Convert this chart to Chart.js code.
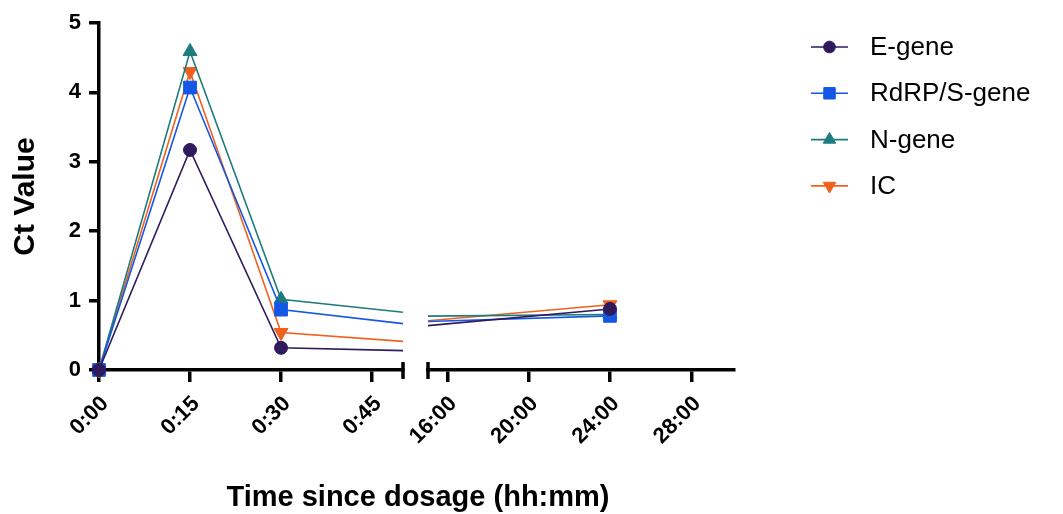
<!DOCTYPE html>
<html>
<head>
<meta charset="utf-8">
<script src="https://cdn.jsdelivr.net/npm/chart.js@4"></script>
<style>
  html, body { margin: 0; padding: 0; background: #fff; }
  #wrap { position: relative; width: 1063px; height: 514px; overflow: hidden; }
  #leftChart { position: absolute; left: 0; top: 0; }
  #rightChart { position: absolute; left: 340px; top: 0; }
  #xTitle {
    position: absolute; left: 418px; top: 482px; transform: translateX(-50%);
    font: bold 29px 'Liberation Sans', Arial, sans-serif; line-height: 29px;
    white-space: nowrap; color: #000;
  }
</style>
</head>
<body>
<div id="wrap">
  <canvas id="leftChart" width="420" height="514"></canvas>
  <canvas id="rightChart" width="723" height="514"></canvas>
  <div id="xTitle">Time since dosage (hh:mm)</div>
</div>
<script>
// time points in hours since dosage
const hours = [0, 0.25, 0.5, 1, 24];
const eGene = [0, 3.17, 0.32, 0.26, 0.88];
const rdrpGene = [0, 4.07, 0.87, 0.57, 0.78];
const nGene = [0, 4.59, 1.02, 0.74, 0.80];
const icValues = [0, 4.30, 0.54, 0.35, 0.94];
const seriesNames = ['E-gene', 'RdRP/S-gene', 'N-gene', 'IC'];

const leftTicks = [0, 0.25, 0.5, 0.75];
const rightTicks = [16, 20, 24, 28];
const yTicks = [0, 1, 2, 3, 4, 5];

const FONT = "'Liberation Sans', Arial, sans-serif";

const seriesStyles = [
    { color: '#2e1a5c', pointStyle: 'circle', radius: 6.5, rotation: 0 },
    { color: '#1457e6', pointStyle: 'rect', radius: 9, rotation: 0 },
    { color: '#1d7b7d', pointStyle: 'triangle', radius: 8, rotation: 0 },
    { color: '#f0601f', pointStyle: 'triangle', radius: 8, rotation: 180 }
];

function formatTime(h) {
    const whole = Math.floor(h);
    const mins = Math.round((h - whole) * 60);
    return whole + ':' + String(mins).padStart(2, '0');
}

function buildDatasets(clip) {
    return [eGene, rdrpGene, nGene, icValues].map((vals, i) => {
        const s = seriesStyles[i];
        return {
            label: seriesNames[i],
            data: hours.map((h, j) => ({ x: h, y: vals[j] })),
            borderColor: s.color,
            backgroundColor: s.color,
            borderWidth: 1.6,
            pointStyle: s.pointStyle,
            pointRadius: s.radius,
            pointRotation: s.rotation,
            pointBorderWidth: 1,
            tension: 0,
            clip: clip
        };
    });
}

// end caps where the x axis is broken
const breakMark = {
    id: 'breakMark',
    afterDraw(chart, args, opts) {
        const ctx = chart.ctx;
        const area = chart.chartArea;
        const x = opts.side === 'right' ? area.right : area.left;
        ctx.save();
        ctx.strokeStyle = '#000';
        ctx.lineWidth = 3.5;
        ctx.beginPath();
        ctx.moveTo(x, area.bottom - 8);
        ctx.lineTo(x, area.bottom + 9);
        ctx.stroke();
        ctx.restore();
    }
};

// legend with a short line through each marker
const lineLegend = {
    id: 'lineLegend',
    afterDraw(chart, args, opts) {
        if (!opts.show) return;
        const ctx = chart.ctx;
        chart.data.datasets.forEach((ds, i) => {
            const y = opts.y + i * opts.gap;
            const s = seriesStyles[i];
            ctx.save();
            ctx.strokeStyle = s.color;
            ctx.fillStyle = s.color;
            ctx.lineWidth = 1.6;
            ctx.beginPath();
            ctx.moveTo(opts.x, y);
            ctx.lineTo(opts.x + 37, y);
            ctx.stroke();
            ctx.lineWidth = 1;
            Chart.helpers.drawPoint(ctx, {
                pointStyle: s.pointStyle,
                rotation: s.rotation,
                radius: s.radius * 0.9,
                borderWidth: 1
            }, opts.x + 18.5, y);
            ctx.fillStyle = '#000';
            ctx.font = '26px ' + FONT;
            ctx.textBaseline = 'middle';
            ctx.fillText(ds.label, opts.x + 59, y + 1);
            ctx.restore();
        });
    }
};

function makeChart(id, cfg) {
    const xScale = {
        type: 'linear',
        min: cfg.xMin,
        max: cfg.xMax,
        afterBuildTicks: s => { s.ticks = cfg.ticks.map(v => ({ value: v })); },
        afterFit: s => { s.height = 144; },
        ticks: {
            autoSkip: false,
            minRotation: 45,
            maxRotation: 45,
            padding: 9,
            labelOffset: 6,
            color: '#000',
            font: { family: FONT, size: 22, weight: 'bold' },
            callback: v => formatTime(v)
        },
        grid: { drawOnChartArea: false, drawTicks: true, tickLength: 12, color: '#000', lineWidth: 3.5 },
        border: { display: true, color: '#000', width: 3.5 }
    };

    const yScale = {
        type: 'linear',
        display: cfg.showY,
        min: 0,
        max: 5,
        afterBuildTicks: s => { s.ticks = yTicks.map(v => ({ value: v })); },
        afterFit: s => { if (cfg.showY) s.width = 99; },
        ticks: {
            padding: 8,
            color: '#000',
            font: { family: FONT, size: 22, weight: 'bold' }
        },
        grid: { drawOnChartArea: false, drawTicks: true, tickLength: 10, color: '#000', lineWidth: 3.5 },
        border: { display: true, color: '#000', width: 3.5 },
        title: {
            display: true,
            text: 'Ct Value',
            color: '#000',
            padding: { top: 8, bottom: 0 },
            font: { family: FONT, size: 30, weight: 'bold' }
        }
    };

    return new Chart(document.getElementById(id), {
        type: 'line',
        data: { datasets: buildDatasets(cfg.clip) },
        options: {
            responsive: false,
            animation: false,
            layout: { padding: cfg.padding },
            scales: { x: xScale, y: yScale },
            plugins: {
                legend: { display: false },
                tooltip: { enabled: false },
                breakMark: { side: cfg.breakSide },
                lineLegend: cfg.legend
            }
        },
        plugins: [breakMark, lineLegend]
    });
}

// first segment 0:00 - 0:50
makeChart('leftChart', {
    xMin: 0,
    xMax: 0.835,
    ticks: leftTicks,
    showY: true,
    padding: { top: 23, left: 0, right: 17, bottom: 0 },
    clip: { left: 12, top: 12, right: 0, bottom: 12 },
    breakSide: 'right',
    legend: { show: false }
});

// second segment 15:00 - 30:00
makeChart('rightChart', {
    xMin: 15.05,
    xMax: 30.1,
    ticks: rightTicks,
    showY: false,
    padding: { top: 23, left: 88, right: 329, bottom: 0 },
    clip: { left: 0, top: 12, right: 12, bottom: 12 },
    breakSide: 'left',
    legend: { show: true, x: 471, y: 47, gap: 46.3 }
});
</script>
</body>
</html>
